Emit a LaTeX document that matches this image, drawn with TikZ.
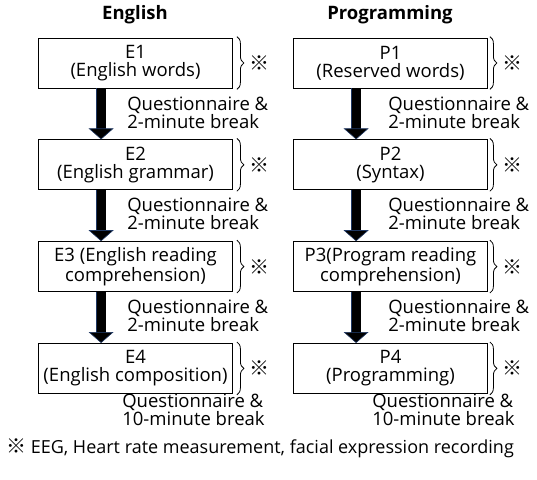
\documentclass[tikz,border=0pt]{standalone}
\usepackage{fontspec}
\setmainfont{Open Sans}
\newfontfamily\refmarkfont{Noto Sans CJK JP}
\usepackage{tikz}
\usetikzlibrary{arrows.meta,positioning,decorations.pathreplacing}
\definecolor{arrowblue}{RGB}{31,56,100}
\newcommand{\refmark}{{\refmarkfont\fontsize{20}{18}\selectfont ※}}
\tikzset{
    task/.style={rectangle, draw, line width=0.8pt, minimum width=194pt, minimum height=50pt, align=center, inner sep=2pt, font=\fontsize{18.5}{18}\selectfont},
    note/.style={anchor=west, align=left, inner sep=0pt, font=\fontsize{18.5}{18}\selectfont},
    head/.style={font=\fontsize{18.5}{18}\selectfont\bfseries},
    flow/.style={draw=black, line width=9pt, -{Triangle[width=25pt, length=11pt, line width=0.6pt, color=arrowblue, fill=black]}, preaction={draw=arrowblue, line width=10.6pt, -, shorten >=10pt}},
    bracket/.style={draw, line width=0.8pt, decorate, decoration={brace, amplitude=7pt}},
    refnote/.style={right=12pt, inner sep=0pt}
}

\begin{document}
\begin{tikzpicture}[x=1pt, y=-1pt]
    \useasboundingbox (0,0) rectangle (537,479);

    % Headings
    \node [head] (english) at (135,15) {English};
    \node [head] (programming) at (390,15) {Programming};

    % English tasks
    \node [task] (e1) at (135.5,63) {E1\\(English words)};
    \node [task, below=51pt of e1] (e2) {E2\\(English grammar)};
    \node [task, below=51pt of e2] (e3) {E3 (English reading\\comprehension)};
    \node [task, below=51pt of e3] (e4) {E4\\(English composition)};

    % Programming tasks
    \node [task] (p1) at (390.5,63) {P1\\(Reserved words)};
    \node [task, below=51pt of p1] (p2) {P2\\(Syntax)};
    \node [task, below=51pt of p2] (p3) {P3(Program reading\\comprehension)};
    \node [task, below=51pt of p3] (p4) {P4\\(Programming)};

    % Arrows
    \draw [flow] ([xshift=63pt]e1.south west) -- ([xshift=63pt]e2.north west);
    \draw [flow] ([xshift=63pt]e2.south west) -- ([xshift=63pt]e3.north west);
    \draw [flow] ([xshift=63pt]e3.south west) -- ([xshift=63pt]e4.north west);
    \draw [flow] ([xshift=63pt]p1.south west) -- ([xshift=63pt]p2.north west);
    \draw [flow] ([xshift=63pt]p2.south west) -- ([xshift=63pt]p3.north west);
    \draw [flow] ([xshift=63pt]p3.south west) -- ([xshift=63pt]p4.north west);

    % Breaks
    \node [note] (be1) at ([xshift=89pt,yshift=-24pt]e1.south west) {Questionnaire \&\\2-minute break};
    \node [note] (be2) at ([xshift=89pt,yshift=-24pt]e2.south west) {Questionnaire \&\\2-minute break};
    \node [note] (be3) at ([xshift=89pt,yshift=-24pt]e3.south west) {Questionnaire \&\\2-minute break};
    \node [note] (be4) at ([xshift=84pt,yshift=-16pt]e4.south west) {Questionnaire \&\\10-minute break};
    \node [note] (bp1) at ([xshift=95pt,yshift=-24pt]p1.south west) {Questionnaire \&\\2-minute break};
    \node [note] (bp2) at ([xshift=95pt,yshift=-24pt]p2.south west) {Questionnaire \&\\2-minute break};
    \node [note] (bp3) at ([xshift=95pt,yshift=-24pt]p3.south west) {Questionnaire \&\\2-minute break};
    \node [note] (bp4) at ([xshift=79pt,yshift=-16pt]p4.south west) {Questionnaire \&\\10-minute break};

    % Measurement brackets
    \draw [bracket] ([xshift=4pt,yshift=1pt]e1.north east) -- ([xshift=4pt,yshift=-1pt]e1.south east) node [refnote, midway] (me1) {\refmark};
    \draw [bracket] ([xshift=4pt,yshift=1pt]e2.north east) -- ([xshift=4pt,yshift=-1pt]e2.south east) node [refnote, midway] (me2) {\refmark};
    \draw [bracket] ([xshift=4pt,yshift=1pt]e3.north east) -- ([xshift=4pt,yshift=-1pt]e3.south east) node [refnote, midway] (me3) {\refmark};
    \draw [bracket] ([xshift=4pt,yshift=1pt]e4.north east) -- ([xshift=4pt,yshift=-1pt]e4.south east) node [refnote, midway] (me4) {\refmark};
    \draw [bracket] ([xshift=2pt,yshift=1pt]p1.north east) -- ([xshift=2pt,yshift=-1pt]p1.south east) node [refnote, midway] (mp1) {\refmark};
    \draw [bracket] ([xshift=2pt,yshift=1pt]p2.north east) -- ([xshift=2pt,yshift=-1pt]p2.south east) node [refnote, midway] (mp2) {\refmark};
    \draw [bracket] ([xshift=2pt,yshift=1pt]p3.north east) -- ([xshift=2pt,yshift=-1pt]p3.south east) node [refnote, midway] (mp3) {\refmark};
    \draw [bracket] ([xshift=2pt,yshift=1pt]p4.north east) -- ([xshift=2pt,yshift=-1pt]p4.south east) node [refnote, midway] (mp4) {\refmark};

    % Legend
    \node [note, anchor=center, font=\fontsize{18}{18}\selectfont] (legend) at (260,448) {\refmark\ EEG, Heart rate measurement, facial expression recording};
\end{tikzpicture}
\end{document}
